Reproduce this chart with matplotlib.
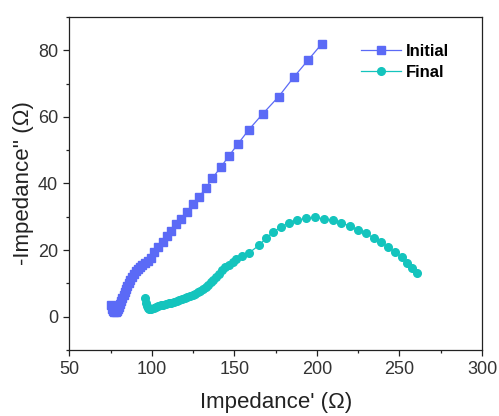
import matplotlib.pyplot as plt
from matplotlib.ticker import MultipleLocator

# Nyquist data, Z' vs -Z'' in ohm
init_x = [75.5, 76.0, 76.6, 77.3, 78.0, 78.7, 79.3, 80.0, 80.7, 81.4, 82.1, 82.8,
          83.5, 84.3, 85.1, 86.0, 86.9, 87.9, 89.0, 90.2, 91.5, 92.8, 94.2, 95.6,
          97.5, 99.6, 101.4, 103.8, 106.5, 109.1, 111.5, 114.4, 117.6, 121.2, 124.7,
          128.5, 132.5, 136.5, 141.6, 146.7, 152.3, 158.8, 167.3, 176.8, 185.9,
          194.5, 203.0]
init_y = [3.5, 2.4, 1.7, 1.3, 1.3, 1.6, 2.2, 3.0, 3.9, 4.8, 5.7, 6.6,
          7.5, 8.4, 9.3, 10.2, 11.1, 12.0, 12.8, 13.6, 14.3, 15.0, 15.6, 16.2,
          16.8, 17.6, 19.3, 20.8, 22.4, 24.1, 25.8, 27.7, 29.4, 31.4, 33.7,
          35.9, 38.5, 41.5, 44.8, 48.3, 52.0, 56.2, 61.0, 66.1, 71.9,
          77.0, 82.0]

fin_x = [96.0, 96.3, 96.8, 97.5, 98.5, 99.7, 101.0, 102.5, 104.0, 105.5, 107.0,
         108.6, 110.2, 111.8, 113.4, 115.0, 116.6, 118.2, 119.8, 121.4, 123.0,
         124.6, 126.2, 127.8, 129.4, 131.0, 132.6, 134.2, 135.8, 137.2, 138.6,
         140.4, 142.2, 144.4, 146.7, 148.9, 151.1, 154.7, 158.8, 164.8, 169.3,
         173.5, 178.2, 182.8, 188.1, 193.3, 198.8, 204.1, 209.5, 214.7, 219.8,
         224.8, 229.7, 234.4, 239.0, 243.0, 247.3, 251.3, 254.7, 257.8, 260.4]
fin_y = [5.5, 4.2, 3.2, 2.6, 2.3, 2.3, 2.6, 2.9, 3.2, 3.4, 3.6,
         3.8, 4.0, 4.2, 4.4, 4.7, 4.9, 5.2, 5.5, 5.8, 6.1,
         6.5, 6.9, 7.3, 7.8, 8.3, 8.9, 9.6, 10.3, 11.1, 11.9,
         12.9, 13.9, 14.8, 15.6, 16.5, 17.3, 18.1, 19.1, 21.4, 23.6,
         25.4, 26.9, 28.1, 29.0, 29.5, 29.8, 29.4, 28.9, 28.2, 27.2,
         26.1, 25.0, 23.6, 22.4, 20.8, 19.4, 17.8, 16.2, 14.6, 13.1]

plt.rcParams['font.family'] = 'Liberation Sans'

fig = plt.figure(figsize=(4.99, 4.16), dpi=100)
ax = fig.add_axes([0.139, 0.159, 0.827, 0.800])

ax.plot(init_x, init_y, color='#5b6af6', marker='s', markersize=5.3, linewidth=0.9,
        label='Initial')
ax.plot(fin_x, fin_y, color='#14c4bd', marker='o', markersize=5.5, linewidth=0.9,
        label='Final')

ax.set_xlim(50, 300)
ax.set_ylim(-10, 90)
ax.xaxis.set_major_locator(MultipleLocator(50))
ax.xaxis.set_minor_locator(MultipleLocator(25))
ax.yaxis.set_major_locator(MultipleLocator(20))
ax.yaxis.set_minor_locator(MultipleLocator(10))

for s in ax.spines.values():
    s.set_linewidth(0.9)
    s.set_color('#222222')
ax.tick_params(which='major', direction='out', length=4.5, width=0.9,
               labelsize=13, colors='#222222', labelcolor='#333333', pad=3.5)
ax.tick_params(which='minor', direction='out', length=2.5, width=0.9, colors='#222222')

ax.set_xlabel("Impedance' (\u03a9)", fontsize=16, color='#222222', labelpad=10)
ax.set_ylabel("-Impedance'' (\u03a9)", fontsize=16, color='#222222', labelpad=3)

leg = ax.legend(loc='upper left', bbox_to_anchor=(361 / 499, 1 - 44 / 416),
                bbox_transform=fig.transFigure, frameon=False, borderpad=0,
                borderaxespad=0, handlelength=2.4, handletextpad=0.3,
                labelspacing=0.35, prop={'size': 12, 'weight': 'bold'})

fig.savefig('out.png', dpi=100)
